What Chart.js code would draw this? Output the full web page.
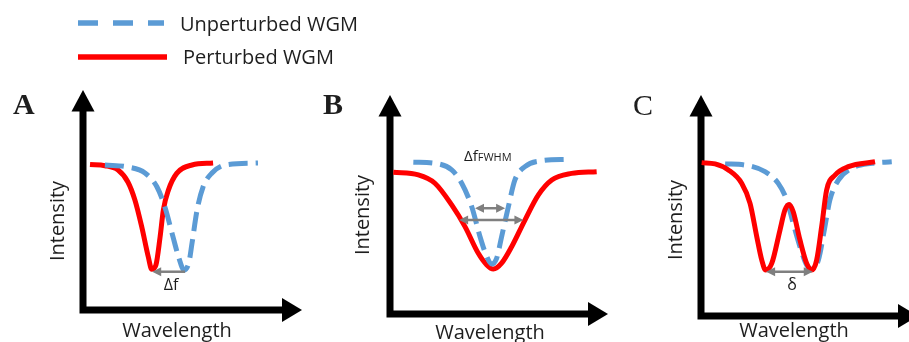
<!DOCTYPE html>
<html><head><meta charset="utf-8">
<script src="https://cdn.jsdelivr.net/npm/chart.js@4.4.1/dist/chart.umd.min.js"></script>
<style>
html,body{margin:0;padding:0;overflow:hidden;background:#fff;width:909px;height:342px;position:relative}
canvas{position:absolute;left:0;top:0}
</style></head><body>
<canvas id="cA" width="909" height="342"></canvas>
<canvas id="cB" width="909" height="342"></canvas>
<canvas id="cC" width="930" height="342"></canvas>
<script>
// ---- Data (wavelength 0-100, intensity 0-100, arbitrary units) ----
// Panel A: resonance shift
const aBlueX = [10.0, 20.5, 28.3, 33.8, 37.4, 41.1, 43.8, 46.1, 48.4, 49.8, 52.1, 54.8, 58.9, 64.8, 79.9];
const aBlueY = [65.9, 65.0, 62.3, 55.9, 46.8, 33.2, 23.6, 18.2, 21.8, 30.5, 45.5, 55.9, 62.3, 65.9, 66.8];
const aRedX  = [3.2, 10.0, 16.0, 20.5, 23.7, 26.8, 29.8, 31.4, 33.3, 35.2, 36.7, 39.0, 42.8, 49.8, 59.4];
const aRedY  = [66.1, 65.6, 63.6, 58.2, 50.0, 37.9, 24.2, 18.5, 20.5, 33.2, 45.5, 54.5, 62.1, 65.9, 66.8];
const aShiftX = [46.6, 31.6];
const aShiftY = 17.4;
// Panel B: linewidth broadening
const bBlueX = [10.7, 20.6, 28.3, 32.9, 37.5, 41.3, 44.4, 46.6, 48.9, 51.2, 54.3, 57.3, 61.9, 69.6, 81.8];
const bBlueY = [69.3, 68.8, 65.8, 59.7, 49.0, 35.3, 26.2, 22.8, 25.4, 35.3, 49.0, 61.2, 67.3, 70.0, 70.6];
const bRedX  = [1.5, 13.0, 20.6, 28.3, 34.4, 40.5, 44.4, 47.4, 51.2, 55.8, 61.9, 68.0, 74.2, 83.3, 94.8];
const bRedY  = [64.7, 63.5, 59.7, 49.8, 39.9, 27.7, 22.4, 20.5, 23.2, 30.7, 42.9, 54.3, 61.2, 64.2, 65.0];
const bFwhmBlueX = [39.0, 52.8];
const bFwhmBlueY = 48.3;
const bFwhmRedX = [31.7, 61.2];
const bFwhmRedY = 42.9;
// Panel C: mode splitting
const cBlueX = [11.1, 20.3, 29.5, 35.6, 39.5, 42.5, 45.6, 48.7, 51.0, 54.1, 57.1, 59.4, 63.3, 69.4, 78.7, 87.9];
const cBlueY = [68.8, 68.3, 65.3, 60.0, 52.5, 41.9, 31.4, 23.1, 21.1, 25.3, 40.4, 52.5, 61.5, 66.8, 69.1, 69.8];
const cRedX  = [0.3, 6.5, 12.6, 18.8, 22.6, 25.7, 28.0, 29.8, 32.6, 36.4, 38.7, 40.6, 42.5, 45.6, 48.7, 51.0, 53.3, 55.6, 57.9, 61.8, 67.9, 80.2];
const cRedY  = [69.4, 68.8, 66.1, 60.0, 51.0, 35.9, 25.3, 20.8, 23.8, 38.9, 48.0, 50.5, 47.2, 34.4, 23.8, 20.8, 25.3, 40.4, 57.0, 63.8, 67.6, 69.8];
const cSplitX = [30.0, 51.5];
const cSplitY = 20.0;

const legendLabels = ['Unperturbed WGM', 'Perturbed WGM'];
const BLUE = '#5B9BD5', RED = '#FF0000', GRAY = '#7F7F7F', INK = '#1e1e1e';
const FONT = "'Open Sans', sans-serif";

function pts(xs, ys){ return xs.map((x,i)=>({x:x, y:ys[i]})); }

function arrowHead(ctx, x, y, dir, len, half){
  ctx.beginPath();
  ctx.moveTo(x, y);
  ctx.lineTo(x - dir*len, y - half);
  ctx.lineTo(x - dir*len, y + half);
  ctx.closePath();
  ctx.fill();
}

const decor = {
  id: 'decor',
  beforeDatasetsDraw(chart, args, o){
    const ctx = chart.ctx, sx = chart.scales.x, sy = chart.scales.y;
    const L = sx.getPixelForValue(0), R = sx.getPixelForValue(100);
    const T = sy.getPixelForValue(100), B = sy.getPixelForValue(0);
    ctx.save();
    ctx.fillStyle = '#000'; ctx.strokeStyle = '#000'; ctx.lineWidth = 7; ctx.lineCap = 'butt';
    ctx.beginPath();
    ctx.moveTo(L, B + 3.5); ctx.lineTo(L, T + 20);
    ctx.moveTo(L - 3.5, B); ctx.lineTo(R - 19, B);
    ctx.stroke();
    // y arrow
    ctx.beginPath(); ctx.moveTo(L, T); ctx.lineTo(L - 11.5, T + 21.5); ctx.lineTo(L + 11.5, T + 21.5); ctx.closePath(); ctx.fill();
    // x arrow
    ctx.beginPath(); ctx.moveTo(R, B); ctx.lineTo(R - 20, B - 12); ctx.lineTo(R - 20, B + 12); ctx.closePath(); ctx.fill();
    ctx.restore();
  },
  afterDatasetsDraw(chart, args, o){
    const ctx = chart.ctx, sx = chart.scales.x, sy = chart.scales.y;
    ctx.save();
    // annotation arrows
    ctx.strokeStyle = GRAY; ctx.fillStyle = GRAY; ctx.lineWidth = 2.5;
    (o.arrows || []).forEach(a => {
      const x1 = sx.getPixelForValue(a.xs[0]), x2 = sx.getPixelForValue(a.xs[1]);
      const y = sy.getPixelForValue(a.y);
      const d = x2 > x1 ? 1 : -1;
      ctx.beginPath();
      ctx.moveTo(x1 + (a.both ? d*6 : 0), y); ctx.lineTo(x2 - d*6, y); ctx.stroke();
      arrowHead(ctx, x2, y, d, 9, 4.5);
      if (a.both) arrowHead(ctx, x1, y, -d, 9, 4.5);
    });
    // texts
    ctx.fillStyle = INK;
    (o.texts || []).forEach(t => {
      ctx.save();
      ctx.font = t.font; ctx.textAlign = t.align || 'left'; ctx.textBaseline = 'alphabetic';
      ctx.translate(t.x, t.y);
      if (t.rot) ctx.rotate(t.rot);
      if (t.runs) {
        let cx = 0;
        t.runs.forEach(r => { ctx.font = r.font; ctx.textAlign = 'left'; ctx.fillText(r.text, cx, 0); cx += ctx.measureText(r.text).width; });
      } else ctx.fillText(t.text, 0, 0);
      ctx.restore();
    });
    // legend
    if (o.legend) {
      ctx.lineWidth = 5.5; ctx.lineCap = 'butt';
      ctx.strokeStyle = BLUE; ctx.setLineDash([20, 15]);
      ctx.beginPath(); ctx.moveTo(78, 23); ctx.lineTo(164, 23); ctx.stroke();
      ctx.setLineDash([]);
      ctx.strokeStyle = RED;
      ctx.beginPath(); ctx.moveTo(78, 57); ctx.lineTo(167, 57); ctx.stroke();
      ctx.fillStyle = INK; ctx.font = "20px " + FONT; ctx.textAlign = 'left';
      ctx.fillText(legendLabels[0], 180, 31);
      ctx.fillText(legendLabels[1], 183, 64);
    }
    ctx.restore();
  }
};

function makePanel(id, cw, box, blue, red, blueOnTop, decorOpts){
  const common = {borderWidth: 5, pointRadius: 0, fill: false, cubicInterpolationMode: 'monotone', clip: false, borderJoinStyle: 'round'};
  return new Chart(document.getElementById(id), {
    type: 'line',
    data: { datasets: [
      Object.assign({label: legendLabels[0], data: blue, borderColor: BLUE, borderDash: [19, 8], order: blueOnTop ? 0 : 1}, common),
      Object.assign({label: legendLabels[1], data: red, borderColor: RED, order: blueOnTop ? 1 : 0}, common)
    ]},
    options: {
      responsive: false, animation: false, events: [],
      layout: { padding: { left: box.L, right: cw - box.R, top: box.T, bottom: 342 - box.B } },
      scales: {
        x: { type: 'linear', min: 0, max: 100, display: false },
        y: { type: 'linear', min: 0, max: 100, display: false }
      },
      plugins: { legend: {display: false}, tooltip: {enabled: false}, decor: decorOpts }
    },
    plugins: [decor]
  });
}

const titleFont = "20px " + FONT;
makePanel('cA', 909, {L: 83, R: 302, T: 90, B: 310}, pts(aBlueX, aBlueY), pts(aRedX, aRedY), true, {
  legend: true,
  arrows: [{xs: aShiftX, y: aShiftY, both: false}],
  texts: [
    {text: 'A', x: 13, y: 114, font: "bold 30px 'Liberation Serif', serif"},
    {text: 'Intensity', x: 64, y: 221, font: titleFont, align: 'center', rot: -Math.PI/2},
    {text: 'Wavelength', x: 177, y: 337, font: titleFont, align: 'center'},
    {text: 'Δf', x: 171, y: 290, font: "16px " + FONT, align: 'center'}
  ]
});
makePanel('cB', 909, {L: 390, R: 608, T: 95, B: 314}, pts(bBlueX, bBlueY), pts(bRedX, bRedY), true, {
  arrows: [{xs: bFwhmBlueX, y: bFwhmBlueY, both: true}, {xs: bFwhmRedX, y: bFwhmRedY, both: true}],
  texts: [
    {text: 'B', x: 323, y: 114, font: "bold 30px 'Liberation Serif', serif"},
    {text: 'Intensity', x: 369, y: 215, font: titleFont, align: 'center', rot: -Math.PI/2},
    {text: 'Wavelength', x: 490, y: 339, font: titleFont, align: 'center'},
    {x: 464, y: 161, runs: [{text: 'Δf', font: "15px " + FONT}, {text: 'FWHM', font: "11px " + FONT}]}
  ]
});
makePanel('cC', 930, {L: 701, R: 918, T: 95, B: 316}, pts(cBlueX, cBlueY), pts(cRedX, cRedY), false, {
  arrows: [{xs: cSplitX, y: cSplitY, both: true}],
  texts: [
    {text: 'C', x: 633, y: 115, font: "30px 'Liberation Serif', serif"},
    {text: 'Intensity', x: 682, y: 220, font: titleFont, align: 'center', rot: -Math.PI/2},
    {text: 'Wavelength', x: 794, y: 337, font: titleFont, align: 'center'},
    {text: 'δ', x: 792, y: 290, font: "16px " + FONT, align: 'center'}
  ]
});
</script>
</body></html>
